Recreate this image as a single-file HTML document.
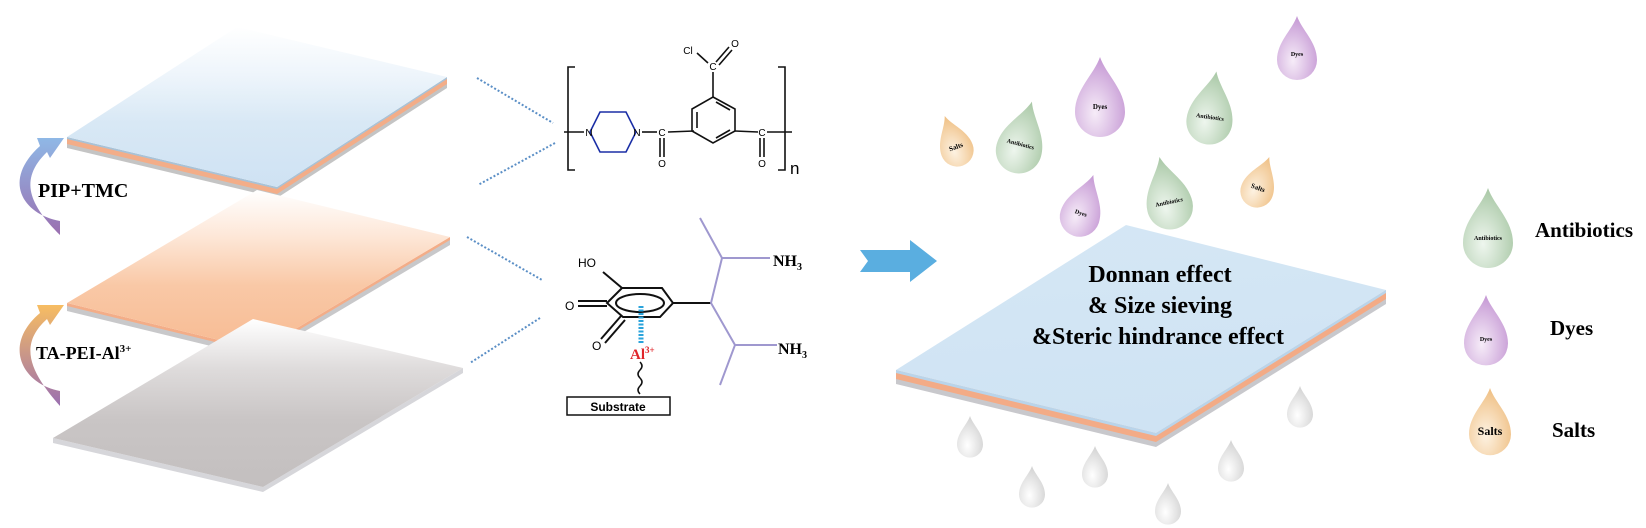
<!DOCTYPE html>
<html><head><meta charset="utf-8"><style>
html,body{margin:0;padding:0;background:#fff;}
svg{display:block;}
text{font-family:"Liberation Serif",serif;}
.sans{font-family:"Liberation Sans",sans-serif;}
</style></head><body>
<svg width="1646" height="528" viewBox="0 0 1646 528" xmlns="http://www.w3.org/2000/svg">
<defs>
<linearGradient id="gBlue" x1="0.5" y1="0" x2="0.5" y2="1">
<stop offset="0" stop-color="#fff"/><stop offset="0.3" stop-color="#eef5fb"/><stop offset="0.6" stop-color="#d8e8f5"/><stop offset="1" stop-color="#cfe2f3"/></linearGradient>
<linearGradient id="gOr" x1="0.5" y1="0" x2="0.5" y2="1">
<stop offset="0" stop-color="#fff"/><stop offset="0.3" stop-color="#fde6d6"/><stop offset="0.6" stop-color="#f9c8a6"/><stop offset="1" stop-color="#f7bb93"/></linearGradient>
<linearGradient id="gGr" x1="0.5" y1="0" x2="0.5" y2="1">
<stop offset="0" stop-color="#fff"/><stop offset="0.3" stop-color="#dedbdb"/><stop offset="0.6" stop-color="#c9c5c5"/><stop offset="1" stop-color="#c3bfbf"/></linearGradient>
<linearGradient id="gBig" x1="0" y1="0" x2="0.2" y2="1">
<stop offset="0" stop-color="#d5e7f5"/><stop offset="1" stop-color="#cfe3f3"/></linearGradient>
<linearGradient id="arr1" x1="0" y1="1" x2="0" y2="0">
<stop offset="0" stop-color="#9a6fb0"/><stop offset="1" stop-color="#8fb8e6"/></linearGradient>
<linearGradient id="arr2" x1="0" y1="1" x2="0" y2="0">
<stop offset="0" stop-color="#9a6fb0"/><stop offset="1" stop-color="#f7bd62"/></linearGradient>
<radialGradient id="dG" cx="0.4" cy="0.7" r="0.7"><stop offset="0" stop-color="#eef6ee"/><stop offset="1" stop-color="#a9c8a6"/></radialGradient>
<radialGradient id="dP" cx="0.4" cy="0.7" r="0.7"><stop offset="0" stop-color="#f6ecf8"/><stop offset="1" stop-color="#c598d4"/></radialGradient>
<radialGradient id="dO" cx="0.4" cy="0.7" r="0.7"><stop offset="0" stop-color="#fdf2e2"/><stop offset="1" stop-color="#efbf83"/></radialGradient>
<radialGradient id="dW" cx="0.4" cy="0.7" r="0.7"><stop offset="0" stop-color="#ffffff"/><stop offset="1" stop-color="#d2d2d2"/></radialGradient>
<path id="drop" d="M0,-1 C0.12,-0.65 0.5,-0.35 0.5,0.1 A0.5,0.5 0 0 1 -0.5,0.1 C-0.5,-0.35 -0.12,-0.65 0,-1 Z"/>
</defs>

<!-- Left membranes -->
<polygon points="67,137 277,187 447,77 447,83 277,193 67,143" fill="#a9c2d6"/>
<polygon points="67,139 277,189 447,79 447,85 277,195 67,145" fill="#f3ad88"/>
<polygon points="67,144 277,194 447,84 447,88 277,198 67,148" fill="#c4c4c4"/>
<polygon points="67,137 277,187 447,77 237,27" fill="url(#gBlue)"/>
<polygon points="67,303 260,350 450,237 450,242 260,355 67,308" fill="#f3ad88"/>
<polygon points="67,306 260,353 450,240 450,245 260,358 67,311" fill="#c8c8ca"/>
<polygon points="67,303 260,350 450,237 257,190" fill="url(#gOr)"/>
<polygon points="53,438 263,487 463,368 463,373 263,492 53,443" fill="#d6d6da"/>
<polygon points="53,438 263,487 463,368 253,319" fill="url(#gGr)"/>

<!-- curved arrows -->
<path d="M60,221 C22,214 2,180 40,146 L37,138 L64,138 L50,158 L47,152 C18,180 30,205 60,235 Z" fill="url(#arr1)"/>
<path d="M60,391 C22,384 2,345 40,313 L37,305 L64,305 L50,325 L47,319 C18,345 30,372 60,406 Z" fill="url(#arr2)"/>
<text x="38" y="197" font-size="20" font-weight="bold">PIP+TMC</text>
<text x="36" y="359" font-size="18" font-weight="bold">TA-PEI-Al<tspan font-size="11" dy="-7">3+</tspan></text>

<g stroke="#5b8fc6" stroke-width="2" stroke-dasharray="2,2" fill="none">
<line x1="477" y1="78" x2="553" y2="123"/>
<line x1="555" y1="143" x2="478" y2="185"/>
<line x1="467" y1="237" x2="542" y2="280"/>
<line x1="540" y1="318" x2="470" y2="363"/>
</g>

<g stroke="#111" stroke-width="1.6" fill="none">
<path d="M575,67 L568,67 L568,170 L575,170"/>
<path d="M778,67 L785,67 L785,170 L778,170"/>
<line x1="564" y1="132" x2="584" y2="132"/>
<line x1="642" y1="132" x2="657" y2="132"/>
<line x1="668" y1="132" x2="694" y2="131"/>
<line x1="660" y1="138" x2="660" y2="157"/><line x1="664" y1="138" x2="664" y2="157"/>
<polygon points="713,97 735,109 735,131 713,143 692,131 692,109"/>
<line x1="697" y1="112" x2="697" y2="128"/><line x1="716" y1="102" x2="730" y2="110"/><line x1="716" y1="138" x2="730" y2="130"/>
<line x1="735" y1="131" x2="758" y2="132"/>
<line x1="767" y1="132" x2="792" y2="132"/>
<line x1="760" y1="138" x2="760" y2="157"/><line x1="764" y1="138" x2="764" y2="157"/>
<line x1="713" y1="97" x2="713" y2="72"/>
<line x1="708" y1="63" x2="697" y2="53"/>
<line x1="716" y1="62" x2="729" y2="47"/><line x1="719" y1="65" x2="732" y2="50"/>
</g>
<polygon points="590,132 600,112 626,112 636,132 626,152 600,152" fill="none" stroke="#1b2fa6" stroke-width="1.6"/>
<g class="sans" font-size="10" text-anchor="middle">
<text x="589" y="136" class="sans">N</text><text x="637" y="136" class="sans">N</text>
<text x="662" y="136" class="sans">C</text><text x="662" y="167" class="sans">O</text>
<text x="762" y="136" class="sans">C</text><text x="762" y="167" class="sans">O</text>
<text x="713" y="70" class="sans">C</text><text x="688" y="54" class="sans">Cl</text><text x="735" y="47" class="sans">O</text>
</g>
<text x="790" y="174" font-size="17" class="sans">n</text>

<g stroke="#111" stroke-width="2" fill="none">
<polygon points="607,303 622,288 662,288 673,303 660,317 623,317"/>
<ellipse cx="640" cy="303" rx="24" ry="9"/>
<line x1="603" y1="272" x2="622" y2="288"/>
<line x1="578" y1="301" x2="607" y2="301"/><line x1="578" y1="306" x2="607" y2="306"/>
<line x1="601" y1="339" x2="621" y2="316"/><line x1="605" y1="343" x2="625" y2="320"/>
<line x1="673" y1="303" x2="711" y2="303"/>
<path d="M640,362 q4,4 0,8 q-4,4 0,8 q4,4 0,8 q-4,4 0,8" stroke-width="1.5"/>
</g>
<line x1="641" y1="306" x2="641" y2="343" stroke="#2aa3db" stroke-width="5" stroke-dasharray="2,1.5"/>
<g stroke="#9f98cf" stroke-width="2" fill="none">
<polyline points="700,218 722,258 711,303 735,345 720,385"/>
<line x1="722" y1="258" x2="770" y2="258"/>
<line x1="735" y1="345" x2="777" y2="345"/>
</g>
<text x="578" y="267" font-size="12" class="sans">HO</text>
<text x="565" y="310" font-size="12" class="sans">O</text>
<text x="592" y="350" font-size="12" class="sans">O</text>
<text x="773" y="266" font-size="16" font-weight="bold">NH<tspan font-size="10" dy="4">3</tspan></text>
<text x="778" y="354" font-size="16" font-weight="bold">NH<tspan font-size="10" dy="4">3</tspan></text>
<text x="630" y="359" font-size="15" font-weight="bold" fill="#e0262b">Al<tspan font-size="9" dy="-6">3+</tspan></text>
<rect x="567" y="397" width="103" height="18" fill="#fff" stroke="#111" stroke-width="1.5"/>
<text x="618" y="411" font-size="12" font-weight="bold" text-anchor="middle" class="sans">Substrate</text>

<polygon points="860,250 910,250 910,240 937,261 910,282 910,272 860,272 868,261" fill="#5aaee0"/>

<polygon points="896,370 1156,433 1386,290 1386,304 1156,447 896,384" fill="#c8c8cc"/>
<polygon points="896,370 1156,433 1386,290 1386,299 1156,442 896,379" fill="#f3ab86"/>
<polygon points="896,370 1156,433 1386,290 1386,293 1156,436 896,373" fill="#b9d4ea"/>
<polygon points="896,370 1156,433 1386,290 1126,225" fill="url(#gBig)"/>
<g font-size="24" font-weight="bold" text-anchor="middle">
<text x="1160" y="282">Donnan effect</text>
<text x="1160" y="313">&amp; Size sieving</text>
<text x="1158" y="344">&amp;Steric hindrance effect</text>
</g>

<g fill="url(#dW)">
<use href="#drop" transform="translate(970,442) scale(26)"/>
<use href="#drop" transform="translate(1032,492) scale(26)"/>
<use href="#drop" transform="translate(1095,472) scale(26)"/>
<use href="#drop" transform="translate(1168,509) scale(26)"/>
<use href="#drop" transform="translate(1231,466) scale(26)"/>
<use href="#drop" transform="translate(1300,412) scale(26)"/>
</g>

<g font-size="7" font-weight="bold" text-anchor="middle">
<g transform="translate(956,147) rotate(-20)"><use href="#drop" fill="url(#dO)" transform="scale(33)"/><text y="2">Salts</text></g>
<g transform="translate(1020,146) rotate(15)"><use href="#drop" fill="url(#dG)" transform="scale(46)"/><text y="0" font-size="6">Antibiotics</text></g>
<g transform="translate(1100,107)"><use href="#drop" fill="url(#dP)" transform="scale(50)"/><text y="2">Dyes</text></g>
<g transform="translate(1210,117) rotate(8)"><use href="#drop" fill="url(#dG)" transform="scale(46)"/><text y="2" font-size="6">Antibiotics</text></g>
<g transform="translate(1297,56)"><use href="#drop" fill="url(#dP)" transform="scale(40)"/><text y="0" font-size="6">Dyes</text></g>
<g transform="translate(1081,213) rotate(18)"><use href="#drop" fill="url(#dP)" transform="scale(40)"/><text y="2" font-size="6">Dyes</text></g>
<g transform="translate(1169,202) rotate(-12)"><use href="#drop" fill="url(#dG)" transform="scale(46)"/><text y="2" font-size="6">Antibiotics</text></g>
<g transform="translate(1258,188) rotate(20)"><use href="#drop" fill="url(#dO)" transform="scale(33)"/><text y="2">Salts</text></g>
<g transform="translate(1488,238)"><use href="#drop" fill="url(#dG)" transform="scale(50)"/><text y="2" font-size="6">Antibiotics</text></g>
<g transform="translate(1486,339)"><use href="#drop" fill="url(#dP)" transform="scale(44)"/><text y="2" font-size="6">Dyes</text></g>
<g transform="translate(1490,430)"><use href="#drop" fill="url(#dO)" transform="scale(42)"/><text y="5" font-size="12">Salts</text></g>
</g>
<g font-size="21" font-weight="bold">
<text x="1535" y="237">Antibiotics</text>
<text x="1550" y="335">Dyes</text>
<text x="1552" y="437">Salts</text>
</g>
</svg>
</body></html>
